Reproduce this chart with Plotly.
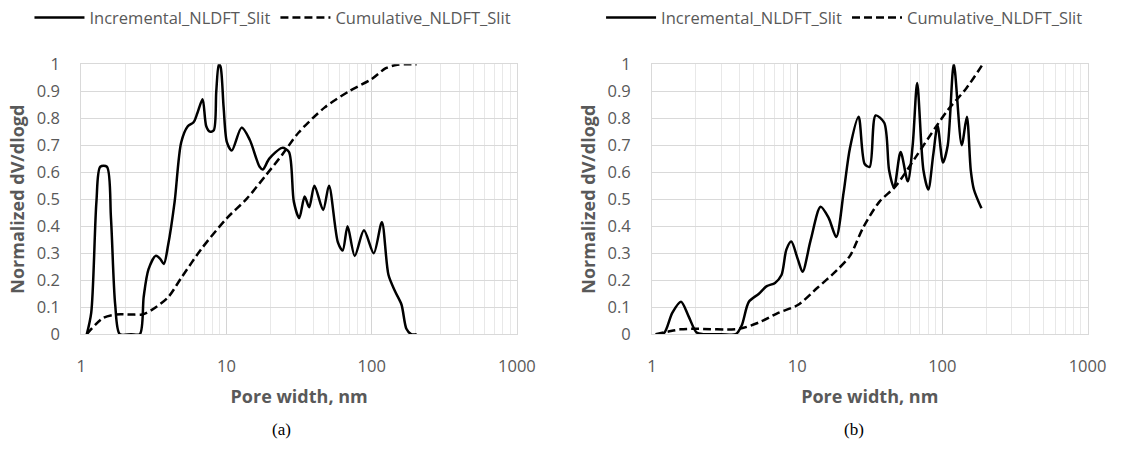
import plotly.graph_objects as go

# ---- sample (a) ----
inc_a_x = [1.09, 1.17, 1.27, 1.35, 1.50, 1.60, 1.71, 1.84, 2.2, 2.53, 2.69, 2.90, 3.25, 3.48,
           3.70, 3.96, 4.39, 4.87, 5.41, 5.93, 6.31, 6.84, 7.25, 7.68, 8.17, 8.5, 8.85, 9.1,
           9.55, 10.07, 10.87, 12.7, 14.45, 16.9, 17.8, 19.7, 24.2, 26.9, 29.1, 31.7, 34.5,
           37.1, 40.3, 46.3, 50.8, 58.5, 63.1, 68.2, 76.4, 88.4, 103.3, 117.5, 130.4, 144.5,
           160.3, 173.3, 187, 204]
inc_a_y = [0.0, 0.08, 0.49, 0.62, 0.62, 0.43, 0.11, 0.0, 0.0, 0.0, 0.14, 0.24, 0.29, 0.28,
           0.26, 0.33, 0.49, 0.71, 0.77, 0.785, 0.82, 0.87, 0.77, 0.75, 0.755, 0.90, 1.0, 0.99,
           0.84, 0.71, 0.68, 0.765, 0.72, 0.62, 0.61, 0.65, 0.69, 0.675, 0.49, 0.43, 0.51,
           0.47, 0.55, 0.46, 0.55, 0.34, 0.31, 0.40, 0.29, 0.385, 0.30, 0.415, 0.22, 0.16,
           0.11, 0.02, 0.0, 0.0]

cum_a_x = [1.09, 1.41, 1.73, 2.2, 2.62, 3.06, 3.96, 4.87, 6.65, 10.07, 13.7, 18.7, 24.2,
           31.4, 47.5, 70, 100, 125, 150, 175, 204]
cum_a_y = [0.0, 0.06, 0.073, 0.073, 0.073, 0.09, 0.137, 0.208, 0.313, 0.43, 0.50, 0.589,
           0.665, 0.747, 0.84, 0.90, 0.945, 0.985, 0.998, 1.0, 1.0]

# ---- sample (b) ----
inc_b_x = [1.06, 1.21, 1.38, 1.585, 1.785, 2.03, 2.25, 3.0, 3.78, 4.15, 4.65, 5.43, 6.18,
           7.04, 7.8, 8.43, 9.11, 10.1, 10.9, 12.4, 14.5, 16.5, 18.6, 20.9, 23.1, 26.5,
           29.2, 31.6, 34.7, 39.8, 43, 46.5, 51.6, 57.8, 62.5, 67.1, 74.1, 80.1, 86.6,
           92.7, 101, 109, 120, 136, 147.6, 157, 165, 186]
inc_b_y = [0.0, 0.004, 0.079, 0.12, 0.067, 0.006, 0.0, 0.0, 0.0, 0.032, 0.12, 0.149, 0.178,
           0.19, 0.219, 0.313, 0.343, 0.278, 0.231, 0.349, 0.472, 0.43, 0.36, 0.525, 0.689,
           0.805, 0.63, 0.62, 0.81, 0.783, 0.607, 0.542, 0.675, 0.566, 0.70, 0.93, 0.607,
           0.536, 0.665, 0.772, 0.636, 0.70, 1.0, 0.70, 0.805, 0.607, 0.536, 0.466]

cum_b_x = [1.06, 1.3, 1.57, 1.93, 3.98, 5.43, 7.41, 10.1, 13.8, 18.8, 23.1, 28.5, 36.8,
           47.7, 65.2, 91.2, 109, 146, 190]
cum_b_y = [0.0, 0.01, 0.018, 0.02, 0.02, 0.043, 0.079, 0.108, 0.172, 0.237, 0.29, 0.395,
           0.49, 0.548, 0.654, 0.771, 0.83, 0.91, 1.0]

x_ticks = [1, 10, 100, 1000]
x_tick_text = ["1", "10", "100", "1000"]
minor_ticks = [m * d for d in (1, 10, 100) for m in range(2, 10)]

W, H = 1130, 457
GREY = "#595959"
FONT = "Open Sans"

fig = go.Figure()

series = [
    (inc_a_x, inc_a_y, "Incremental_NLDFT_Slit", "solid", "x", "y", "legend"),
    (cum_a_x, cum_a_y, "Cumulative_NLDFT_Slit", "8px,4px", "x", "y", "legend"),
    (inc_b_x, inc_b_y, "Incremental_NLDFT_Slit", "solid", "x2", "y2", "legend2"),
    (cum_b_x, cum_b_y, "Cumulative_NLDFT_Slit", "8px,4px", "x2", "y2", "legend2"),
]
for xs, ys, name, dash, xa, ya, lg in series:
    fig.add_trace(go.Scatter(
        x=xs, y=ys, name=name, mode="lines", xaxis=xa, yaxis=ya, legend=lg,
        line=dict(color="black", width=2.5, dash=dash, shape="spline", smoothing=0.8),
    ))

y_dom = [(H - 339) / H, (H - 54) / H]
panels = [("xaxis", "yaxis", 78, 523), ("xaxis2", "yaxis2", 661, 1106)]

axis_common = dict(showline=True, mirror=True, linecolor="#d9d9d9", linewidth=1,
                   ticks="", zeroline=False,
                   tickfont=dict(family=FONT, size=16.5, color=GREY))
for i, (xk, yk, x0, x1) in enumerate(panels):
    anchor_y = "y" if i == 0 else "y2"
    anchor_x = "x" if i == 0 else "x2"
    fig.layout[xk] = dict(
        axis_common, type="log", range=[0, 3], domain=[x0 / W, x1 / W], anchor=anchor_y,
        tickmode="array", tickvals=x_ticks, ticktext=x_tick_text,
        showgrid=True, gridcolor="#d4d4d4", gridwidth=1, ticklabelstandoff=17,
        minor=dict(tickmode="array", tickvals=minor_ticks, showgrid=True,
                   gridcolor="#e8e8e8", gridwidth=1, ticks=""),
        title=dict(text="<b>Pore width, nm</b>", standoff=14,
                   font=dict(family=FONT, size=18, color=GREY)),
    )
    fig.layout[yk] = dict(
        axis_common, range=[0, 1], dtick=0.1, tick0=0, domain=y_dom, anchor=anchor_x,
        showgrid=True, gridcolor="#d9d9d9", gridwidth=1, ticklabelstandoff=17,
        title=dict(text="<b>Normalized dV/dlogd</b>", standoff=7,
                   font=dict(family=FONT, size=18, color=GREY)),
    )

legend_common = dict(orientation="h", yanchor="middle", xanchor="left",
                     font=dict(family=FONT, size=16.5, color=GREY),
                     bgcolor="rgba(0,0,0,0)", itemwidth=50, tracegroupgap=0)
cap_font = dict(family="Liberation Serif", size=17, color="black")
fig.update_layout(
    width=W, height=H, margin=dict(l=0, r=0, t=0, b=0),
    paper_bgcolor="white", plot_bgcolor="white",
    legend=dict(legend_common, x=25 / W, y=1 - 5 / H),
    legend2=dict(legend_common, x=609 / W, y=1 - 5 / H),
    annotations=[
        dict(text="(a)", x=283 / W, y=1 - 440 / H, xref="paper", yref="paper",
             xanchor="center", yanchor="middle", showarrow=False, font=cap_font),
        dict(text="(b)", x=867 / W, y=1 - 440 / H, xref="paper", yref="paper",
             xanchor="center", yanchor="middle", showarrow=False, font=cap_font),
    ],
)

fig.write_html("out.html")
